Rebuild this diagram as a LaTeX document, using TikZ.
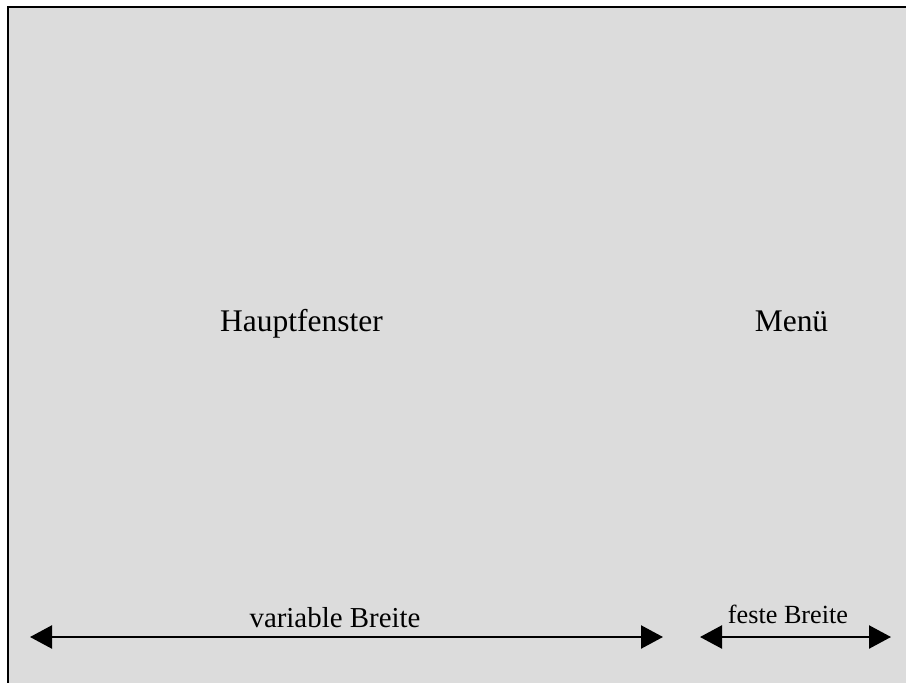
\documentclass[tikz,border=0pt]{standalone}
\usepackage{fontspec}
\setmainfont{Liberation Serif}
\usetikzlibrary{arrows.meta}
\definecolor{panelgray}{HTML}{DCDCDC}
\tikzset{
  lbl/.style={inner sep=0pt, anchor=base, text=black},
  dimarrow/.style={line width=2.3pt, {Triangle[length=22pt,width=23pt]}-{Triangle[length=22pt,width=23pt]}}
}
\begin{document}
\begin{tikzpicture}[x=1pt,y=-1pt]
\useasboundingbox (0,0) rectangle (906,683);
\fill[white] (0,0) rectangle (906,683);
\fill[panelgray] (8,7) rectangle (915,695);
\draw[line width=2pt, black] (8,695) -- (8,7) -- (915,7);
\node[lbl, font=\fontsize{31.5}{36}\selectfont] (haupt) at (301.5,331) {Hauptfenster};
\node[lbl, font=\fontsize{31.5}{36}\selectfont] (menu) at (791.5,331) {Menü};
\node[lbl, font=\fontsize{28.9}{34}\selectfont] (varl) at (335,627) {variable Breite};
\node[lbl, font=\fontsize{26.2}{30}\selectfont] (festl) at (788,623) {feste Breite};
\coordinate (va) at (30,637);
\coordinate (vb) at (663,637);
\coordinate (fa) at (700,637);
\coordinate (fb) at (891,637);
\draw[dimarrow] (va) -- (vb);
\draw[dimarrow] (fa) -- (fb);
\end{tikzpicture}
\end{document}
